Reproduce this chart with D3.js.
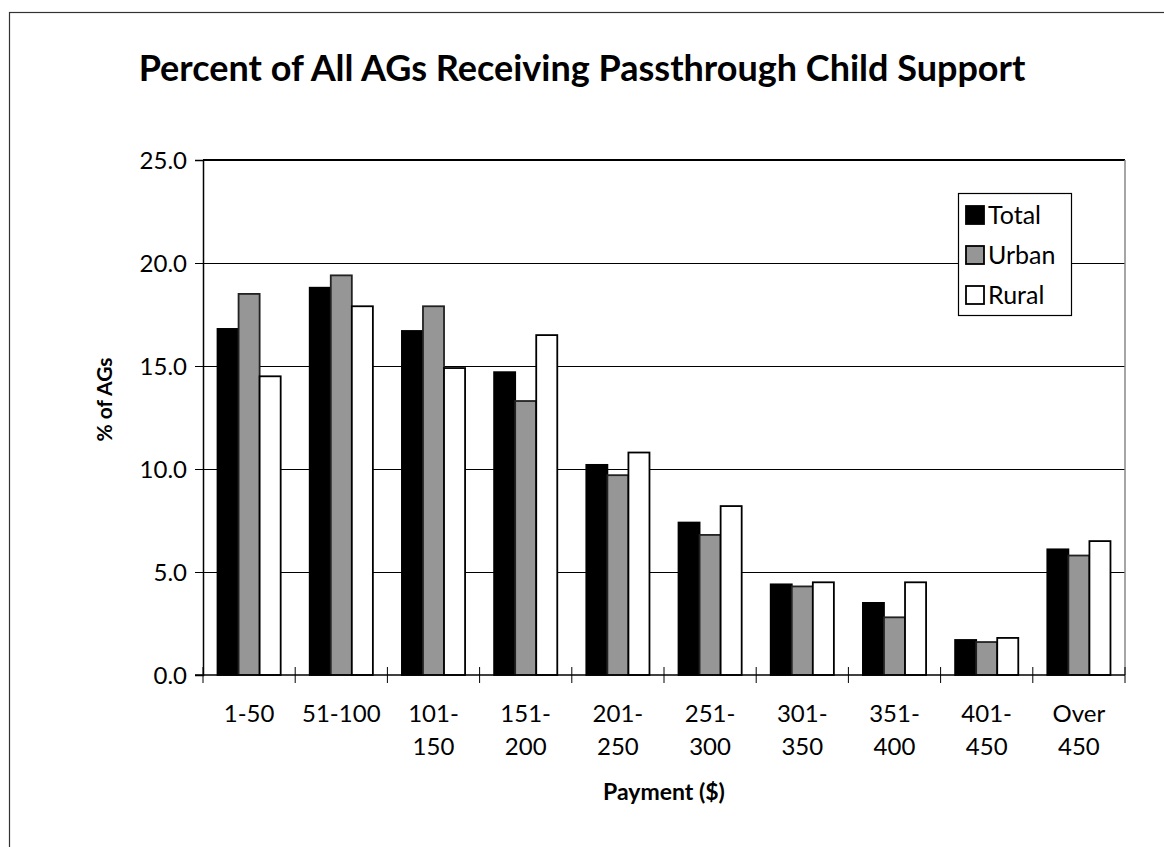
<!DOCTYPE html>
<html>
<head>
<meta charset="utf-8">
<script src="https://cdn.jsdelivr.net/npm/d3@7"></script>
<style>
  body { margin: 0; background: #fff; }
  text { font-family: Lato, "Open Sans", sans-serif; fill: #000; }
</style>
</head>
<body>
<div id="chart"></div>
<script>
// data
const categories = ["1-50", "51-100", "101-150", "151-200", "201-250", "251-300", "301-350", "351-400", "401-450", "Over 450"];
const categoryLines = [["1-50"], ["51-100"], ["101-", "150"], ["151-", "200"], ["201-", "250"], ["251-", "300"], ["301-", "350"], ["351-", "400"], ["401-", "450"], ["Over", "450"]];
const seriesNames = ["Total", "Urban", "Rural"];
const total = [16.8, 18.8, 16.7, 14.7, 10.2, 7.4, 4.4, 3.5, 1.7, 6.1];
const urban = [18.5, 19.4, 17.9, 13.3, 9.7, 6.8, 4.3, 2.8, 1.6, 5.8];
const rural = [14.5, 17.9, 14.9, 16.5, 10.8, 8.2, 4.5, 4.5, 1.8, 6.5];
const yTicks = [0, 5, 10, 15, 20, 25];

const width = 1164, height = 847;
const margin = { top: 160, right: 39, bottom: 172, left: 203 };
const colors = { Total: "#000000", Urban: "#969696", Rural: "#ffffff" };

const rows = categories.map((c, i) => ({ cat: c, lines: categoryLines[i], Total: total[i], Urban: urban[i], Rural: rural[i] }));

const svg = d3.select("#chart").append("svg")
    .attr("width", width)
    .attr("height", height);

// outer frame (runs off the bottom/right of the picture)
svg.append("rect")
    .attr("x", 9.5).attr("y", 12.5)
    .attr("width", width + 20).attr("height", height + 20)
    .attr("fill", "none").attr("stroke", "#333").attr("stroke-width", 1.2);

svg.append("text")
    .attr("x", 582).attr("y", 81)
    .attr("text-anchor", "middle")
    .style("font-size", "36px").style("font-weight", "bold")
    .text("Percent of All AGs Receiving Passthrough Child Support");

const x0 = d3.scaleBand()
    .domain(categories)
    .range([margin.left, width - margin.right])
    .paddingInner(0.315)
    .paddingOuter(0.1575);

const x1 = d3.scaleBand()
    .domain(seriesNames)
    .range([0, x0.bandwidth()]);

const y = d3.scaleLinear()
    .domain([0, 25])
    .range([height - margin.bottom, margin.top]);

// gridlines
svg.append("g")
    .selectAll("line")
    .data(yTicks.filter(t => t > 0 && t < 25))
    .enter().append("line")
    .attr("x1", margin.left).attr("x2", width - margin.right)
    .attr("y1", d => Math.round(y(d)) + 0.5).attr("y2", d => Math.round(y(d)) + 0.5)
    .attr("stroke", "#000").attr("stroke-width", 1);

// plot frame top / right
svg.append("line")
    .attr("x1", margin.left).attr("x2", width - margin.right)
    .attr("y1", y(25)).attr("y2", y(25))
    .attr("stroke", "#000").attr("stroke-width", 2);
svg.append("line")
    .attr("x1", width - margin.right).attr("x2", width - margin.right)
    .attr("y1", y(25)).attr("y2", y(0))
    .attr("stroke", "#888").attr("stroke-width", 1.5);

// bars
const groups = svg.append("g")
    .selectAll("g")
    .data(rows)
    .enter().append("g")
    .attr("transform", d => `translate(${x0(d.cat)},0)`);

groups.selectAll("rect")
    .data(d => seriesNames.map(k => ({ key: k, value: d[k] })))
    .enter().append("rect")
    .attr("x", d => x1(d.key))
    .attr("y", d => y(d.value))
    .attr("width", x1.bandwidth())
    .attr("height", d => y(0) - y(d.value))
    .attr("fill", d => colors[d.key])
    .attr("stroke", d => d.key === "Urban" ? "#222" : "#000")
    .attr("stroke-width", 1.8);

// y axis
const yAxis = svg.append("g")
    .attr("transform", `translate(${margin.left},0)`)
    .call(d3.axisLeft(y).tickValues(yTicks).tickFormat(d3.format(".1f")).tickSize(8).tickPadding(8));
yAxis.select(".domain").attr("stroke", "#000").attr("stroke-width", 1.5);
yAxis.selectAll(".tick line").attr("stroke", "#000");
yAxis.selectAll("text").style("font-size", "24px").attr("dy", "0.35em");

// x axis baseline + crossing ticks between categories
const base = y(0);
svg.append("line")
    .attr("x1", margin.left - 8).attr("x2", width - margin.right)
    .attr("y1", base).attr("y2", base)
    .attr("stroke", "#000").attr("stroke-width", 1.5);

const step = x0.step();
svg.append("g")
    .selectAll("line")
    .data(d3.range(categories.length + 1))
    .enter().append("line")
    .attr("x1", i => margin.left + i * step).attr("x2", i => margin.left + i * step)
    .attr("y1", base - 8).attr("y2", base + 8)
    .attr("stroke", "#000").attr("stroke-width", 1);

const xLabels = svg.append("g")
    .selectAll("text")
    .data(rows)
    .enter().append("text")
    .attr("text-anchor", "middle")
    .style("font-size", "24px")
    .attr("x", d => x0(d.cat) + x0.bandwidth() / 2)
    .attr("y", base + 47);
xLabels.selectAll("tspan")
    .data(d => d.lines)
    .enter().append("tspan")
    .attr("x", function() { return this.parentNode.getAttribute("x"); })
    .attr("dy", (d, i) => i === 0 ? 0 : 33)
    .text(d => d);

// axis titles
svg.append("text")
    .attr("transform", `translate(112, ${(y(0) + y(25)) / 2 - 18}) rotate(-90)`)
    .attr("text-anchor", "middle")
    .style("font-size", "21px").style("font-weight", "bold")
    .text("% of AGs");

svg.append("text")
    .attr("x", (margin.left + width - margin.right) / 2)
    .attr("y", 800)
    .attr("text-anchor", "middle")
    .style("font-size", "23px").style("font-weight", "bold")
    .text("Payment ($)");

// legend
const legend = svg.append("g").attr("transform", "translate(958,193)");
legend.append("rect")
    .attr("x", 0.5).attr("y", 0.5)
    .attr("width", 113).attr("height", 122)
    .attr("fill", "#fff").attr("stroke", "#000").attr("stroke-width", 1.2);

const items = legend.selectAll("g.item")
    .data(seriesNames)
    .enter().append("g")
    .attr("class", "item")
    .attr("transform", (d, i) => `translate(8, ${13 + i * 40})`);
items.append("rect")
    .attr("width", 18).attr("height", 18)
    .attr("fill", d => colors[d])
    .attr("stroke", "#000").attr("stroke-width", 1.8);
items.append("text")
    .attr("x", 22).attr("y", 9).attr("dy", "0.36em")
    .style("font-size", "25px")
    .text(d => d);
</script>
</body>
</html>
